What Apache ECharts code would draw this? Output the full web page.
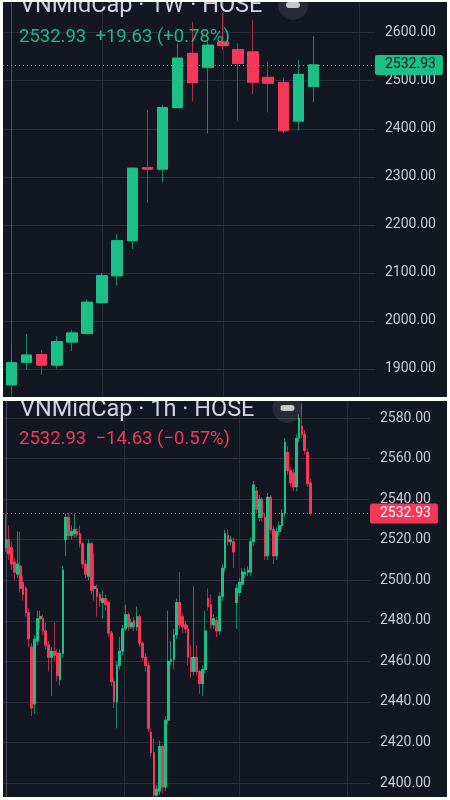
<!DOCTYPE html>
<html><head><meta charset="utf-8">
<script src="https://cdn.jsdelivr.net/npm/echarts@6/dist/echarts.min.js"></script>
<style>
html,body{margin:0;padding:0;background:#ffffff;width:450px;height:800px;overflow:hidden}
#top{position:absolute;left:3px;top:2px;width:444px;height:395px;background:#131722}
#bot{position:absolute;left:3px;top:401px;width:444px;height:396px;background:#131722}
</style></head><body>
<div id="top"></div><div id="bot"></div>
<script>
// ---- Weekly (1W) candles ----
const weeklyOpen  = [1867,1914,1930,1908,1956,1974,2038,2094,2167,2319,2316,2444,2557,2528,2581,2565,2560,2507,2496,2416,2488];
const weeklyClose = [1913,1929,1908,1957,1975,2039,2094,2167,2318,2316,2444,2547,2496,2574,2573,2536,2497,2495,2396,2513.30,2532.93];
const weeklyHigh  = [1952,1973,1939,1968,1982,2045,2100,2181,2320,2439,2450,2578,2623,2584,2641,2578,2626,2540,2507,2543,2593];
const weeklyLow   = [1850,1899,1888,1901,1937,1972,2036,2074,2150,2246,2288,2444,2457,2390,2565,2417,2472,2434,2391,2396,2455];
const weeklyGridIdx = [6,14,23];

// ---- Hourly (1h) candles ----
const hourlyOpen = [2516,2520,2516,2509,2503,2507,2499,2496,2484,2467,2439,2470,2481,2481,2475,2468,2462,2465,2464,2451,2464,2520,2531,2522,2523,
2524,2523,2518,2508,2502,2518,2496,2496,2493,2489,2491,2489,2474,2450,2440,2458,2465,2476,2483,2477,2480,2477,2482,2469,2462,2458,
2425,2415,2394,2396,2418,2398,2431,2460,2461,2473,2489,2482,2478,2476,2462,2455,2462,2455,2449,2456,2491,2488,2478,2480,2475,2492,2506,
2522,2519,2519,2489,2494,2498,2503,2504,2504,2519,2544,2531,2540,2531,2512,2541,2525,2512,2524,2527,2533,2563,2554,2553,2546,2570,2576,2572,2563,2548];
const hourlyClose = [2520,2513,2508,2504,2508,2496,2493,2484,2471,2437,2471,2481,2482,2475,2468,2462,2465,2463,2453,2464,2505,2531,2522,2524,2525,
2522.5,2518,2508,2503,2518,2495,2497,2492,2490,2491,2488,2474,2450,2440,2458,2465,2476,2483,2477,2479,2477,2482,2469,2462,2458,2427,
2415,2394,2397,2418,2398,2431,2460,2461,2473,2489,2478,2477,2476,2462,2455,2462,2455,2449,2456,2475,2487,2478,2481,2475,2492,2506,2523,
2519,2520,2514,2496,2499,2504,2504,2505,2519,2547,2535,2540,2531,2512,2541,2525,2512,2524,2527,2533,2568,2554,2548,2546,2570,2580,2572,2564,2547.56,2532.93];
const hourlyHigh = [2533,2527,2519,2511,2524,2524,2502,2497,2486,2469,2473,2485,2485,2483,2479,2470,2467,2479,2466,2466,2507,2533,2533,2527,2533,
2526,2527,2519,2510,2520,2519,2513,2498,2494,2495,2493,2490,2475,2452,2460,2472,2478,2488,2484,2481,2482,2487,2483,2470,2464,2460,
2427,2422,2399,2421,2419,2433,2485,2470,2476,2491,2504,2484,2480,2478,2468,2497,2468,2456,2458,2485,2496,2493,2483,2482,2494,2508,2525,
2525,2522,2521,2498,2501,2506,2506,2507,2521,2549,2546,2542,2541,2533,2543,2542,2527,2526,2529,2535,2570,2566,2556,2555,2572,2582,2587,2574,2565,2550];
const hourlyLow = [2514,2510,2505,2500,2501,2494,2490,2482,2467,2433,2434,2468,2476,2473,2466,2455,2443,2460,2450,2448,2462,2512,2520,2520,2521,
2521,2516,2506,2501,2500,2493,2490,2482,2487,2481,2485,2472,2448,2437,2427,2456,2463,2475,2475,2476,2475,2475,2467,2460,2455,2425,
2413,2392,2390,2394,2395,2396,2429,2458,2456,2471,2476,2474,2474,2458,2452,2453,2453,2444,2443,2454,2485,2476,2476,2472,2473,2490,2504,
2517,2517,2506,2476,2492,2496,2501,2502,2502,2517,2533,2529,2529,2510,2510,2523,2508,2510,2522,2525,2531,2552,2546,2544,2544,2568,2570,2562,2546,2532];
const hourlyGridIdx = [41.5,82,120];

const UP='#1dbf88', DOWN='#f5385a', UPW='#178a68', DOWNW='#ad3049';
const GRID='#2b2f3b';

function headerText(close){
  const last = close[close.length-1], prev = close[close.length-2];
  const d = last - prev, pct = d/prev*100;
  const s = v => (v>=0?'+':'\u2212') + Math.abs(v).toFixed(2);
  return last.toFixed(2) + '  ' + s(d) + ' (' + s(pct) + '%)';
}

function makeOption(p){
  const o=p.o,c=p.c,h=p.h,l=p.l;
  const wick = o.map((v,i)=>[i, v, c[i], Math.min(l[i],v,c[i]), Math.max(h[i],v,c[i])]);
  const body = o.map((v,i)=>[i, v, c[i], Math.min(v,c[i]), Math.max(v,c[i])]);
  const last = c[c.length-1];
  const up = last >= c[c.length-2];
  const lastColor = up ? UP : DOWN;
  const txtColor = up ? '#26b583' : '#f03a58';
  return {
    animation:false,
    backgroundColor:'#131722',
    grid:{left:0,right:p.gridRight,top:p.gridTop,bottom:p.gridBottom,containLabel:false,outerBoundsMode:'none'},
    xAxis:{type:'value',min:p.xMin,max:p.xMax,show:false},
    yAxis:{type:'value',position:'right',min:p.yMin,max:p.yMax,interval:p.yInt,
      axisLine:{show:true,lineStyle:{color:'#4b4f5a',width:1}},
      axisTick:{show:false},
      axisLabel:{margin:10,color:'#c8cad0',fontSize:14,fontFamily:'Roboto',formatter:v=>v.toFixed(2)},
      splitLine:{show:true,lineStyle:{color:GRID,width:1}}},
    series:[
      {type:'candlestick',data:wick,barWidth:p.bw,
        itemStyle:{color:UPW,color0:DOWNW,borderColor:UPW,borderColor0:DOWNW,borderWidth:1},
        markLine:{silent:true,z:1,symbol:['none','none'],label:{show:false},
          lineStyle:{color:GRID,width:1,type:'solid'},
          data:p.gridIdx.map(x=>({xAxis:x}))}},
      {type:'candlestick',data:body,barWidth:p.bw,
        itemStyle:{color:UP,color0:DOWN,borderColor:UP,borderColor0:DOWN,borderWidth:1},
        markLine:{silent:true,symbol:['none','none'],
          label:{show:true,position:'end',distance:0,formatter:q=>Number(q.value).toFixed(2),
            backgroundColor:lastColor,color:up?'#131722':'#ffffff',padding:[3,7,3,10],
            fontSize:14,fontFamily:'Roboto',borderRadius:2},
          lineStyle:{color:lastColor,width:1,type:[1,3]},
          data:[{yAxis:last}]}}
    ],
    graphic:[
      {type:'circle',shape:{cx:p.btn[0],cy:p.btn[1],r:15},style:{fill:'rgba(255,255,255,0.09)'},z:100},
      {type:'rect',shape:{x:p.btn[0]-7,y:p.btn[1]-3,width:14,height:6,r:3},style:{fill:'#c8c8c8'},z:101},
      {type:'text',x:17,y:p.t1,style:{text:p.title,fill:'#d1d4dc',font:'23.5px Roboto',verticalAlign:'middle'},z:102},
      {type:'text',x:16,y:p.t2,style:{text:headerText(c),fill:txtColor,font:'18.5px Roboto',verticalAlign:'middle'},z:102}
    ]
  };
}

const topChart = echarts.init(document.getElementById('top'), null, {renderer:'canvas'});
topChart.setOption(makeOption({
  o:weeklyOpen,c:weeklyClose,h:weeklyHigh,l:weeklyLow,
  gridRight:72,gridTop:-17.34,gridBottom:-20.0,
  xMin:-0.563,xMax:24.073,yMin:1800,yMax:2700,yInt:100,
  bw:11,gridIdx:weeklyGridIdx,btn:[290,3],t1:4.5,t2:35.2,
  title:'VNMidCap \u00b7 1W \u00b7 HOSE'
}));

const botChart = echarts.init(document.getElementById('bot'), null, {renderer:'canvas'});
botChart.setOption(makeOption({
  o:hourlyOpen,c:hourlyClose,h:hourlyHigh,l:hourlyLow,
  gridRight:77,gridTop:-23.56,gridBottom:-26.6,
  xMin:-1.054,xMax:127.9,yMin:2380,yMax:2600,yInt:20,
  bw:2.2,gridIdx:hourlyGridIdx,btn:[284.5,7],t1:8.7,t2:38.5,
  title:'VNMidCap \u00b7 1h \u00b7 HOSE'
}));
</script>
</body></html>
